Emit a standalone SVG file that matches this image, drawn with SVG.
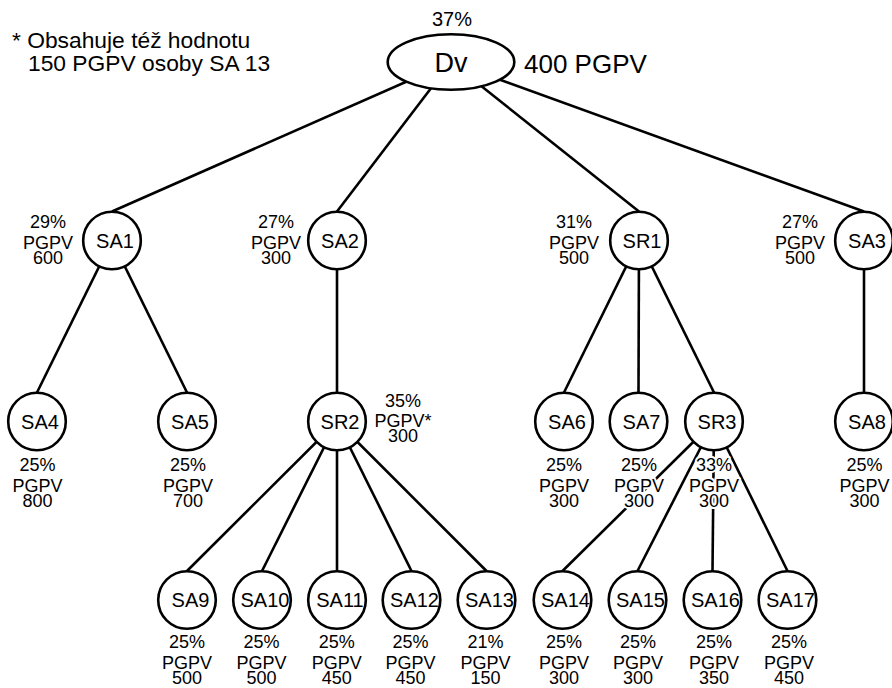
<svg xmlns="http://www.w3.org/2000/svg" width="892" height="688" viewBox="0 0 892 688">
<style>
text{font-family:"Liberation Sans",Arial,sans-serif;fill:#000}
.edge line{stroke:#000;stroke-width:2.6}
.node circle,.node ellipse{fill:#fff;stroke:#000;stroke-width:2.6}
.nt{font-size:20px;text-anchor:middle}
.lb{font-size:18px;text-anchor:middle;stroke:#fff;stroke-width:4;stroke-linejoin:round;paint-order:stroke}
</style>
<rect width="892" height="688" fill="#fff"/>
<g id="legend">
<text x="12" y="48" font-size="22.8">* Obsahuje též hodnotu</text>
<text x="28" y="71" font-size="22.8">150 PGPV osoby SA 13</text>
</g>
<g id="connectors" class="edge">
<line x1="451" y1="62" x2="112" y2="211.5"/>
<line x1="451" y1="62" x2="337" y2="211.5"/>
<line x1="451" y1="62" x2="639" y2="211.5"/>
<line x1="451" y1="62" x2="864" y2="211.5"/>
<line x1="112" y1="240.5" x2="37" y2="392.5"/>
<line x1="112" y1="240.5" x2="187" y2="392.5"/>
<line x1="337" y1="240.5" x2="337" y2="392.5"/>
<line x1="639" y1="240.5" x2="564" y2="392.5"/>
<line x1="639" y1="240.5" x2="638.5" y2="392.5"/>
<line x1="639" y1="240.5" x2="714" y2="392.5"/>
<line x1="864" y1="240.5" x2="864" y2="392.5"/>
<line x1="337" y1="421.5" x2="187" y2="571"/>
<line x1="337" y1="421.5" x2="262" y2="571"/>
<line x1="337" y1="421.5" x2="337" y2="571"/>
<line x1="337" y1="421.5" x2="411.5" y2="571"/>
<line x1="337" y1="421.5" x2="486.5" y2="571"/>
<line x1="714" y1="421.5" x2="562.5" y2="571"/>
<line x1="714" y1="421.5" x2="637.5" y2="571"/>
<line x1="714" y1="421.5" x2="712.5" y2="571"/>
<line x1="714" y1="421.5" x2="787.5" y2="571"/>
</g>
<g id="Dv" class="node">
<ellipse cx="451" cy="62" rx="63.3" ry="27.8"/>
<text x="451" y="71.5" font-size="27" text-anchor="middle">Dv</text>
<text x="452" y="26" font-size="20" text-anchor="middle">37%</text>
<text x="524" y="72.5" font-size="26">400 PGPV</text>
</g>
<g id="SA1" class="node"><circle cx="112" cy="240.5" r="28.8"/><text class="nt" x="115" y="247.8">SA1</text>
<text class="lb" x="48"><tspan x="48" y="228">29%</tspan><tspan x="48" y="248.5">PGPV</tspan><tspan x="48" y="263.5">600</tspan></text></g>
<g id="SA2" class="node"><circle cx="337" cy="240.5" r="28.8"/><text class="nt" x="340" y="247.8">SA2</text>
<text class="lb" x="276"><tspan x="276" y="228">27%</tspan><tspan x="276" y="248.5">PGPV</tspan><tspan x="276" y="263.5">300</tspan></text></g>
<g id="SR1" class="node"><circle cx="639" cy="240.5" r="28.8"/><text class="nt" x="642" y="247.8">SR1</text>
<text class="lb" x="574"><tspan x="574" y="228">31%</tspan><tspan x="574" y="248.5">PGPV</tspan><tspan x="574" y="263.5">500</tspan></text></g>
<g id="SA3" class="node"><circle cx="864" cy="240.5" r="28.8"/><text class="nt" x="867" y="247.8">SA3</text>
<text class="lb" x="800"><tspan x="800" y="228">27%</tspan><tspan x="800" y="248.5">PGPV</tspan><tspan x="800" y="263.5">500</tspan></text></g>
<g id="SA4" class="node"><circle cx="37" cy="421.5" r="28.8"/><text class="nt" x="40" y="428.8">SA4</text>
<text class="lb" x="37.5"><tspan x="37.5" y="470.5">25%</tspan><tspan x="37.5" y="491.5">PGPV</tspan><tspan x="37.5" y="506.5">800</tspan></text></g>
<g id="SA5" class="node"><circle cx="187" cy="421.5" r="28.8"/><text class="nt" x="190" y="428.8">SA5</text>
<text class="lb" x="188"><tspan x="188" y="470.5">25%</tspan><tspan x="188" y="491.5">PGPV</tspan><tspan x="188" y="506.5">700</tspan></text></g>
<g id="SR2" class="node"><circle cx="337" cy="421.5" r="28.8"/><text class="nt" x="340" y="428.8">SR2</text>
<text class="lb" x="403"><tspan x="403" y="406.5">35%</tspan><tspan x="403" y="427">PGPV*</tspan><tspan x="403" y="442">300</tspan></text></g>
<g id="SA6" class="node"><circle cx="564" cy="421.5" r="28.8"/><text class="nt" x="567" y="428.8">SA6</text>
<text class="lb" x="564"><tspan x="564" y="470.5">25%</tspan><tspan x="564" y="491.5">PGPV</tspan><tspan x="564" y="506.5">300</tspan></text></g>
<g id="SA7" class="node"><circle cx="638.5" cy="421.5" r="28.8"/><text class="nt" x="641.5" y="428.8">SA7</text>
<text class="lb" x="639"><tspan x="639" y="470.5">25%</tspan><tspan x="639" y="491.5">PGPV</tspan><tspan x="639" y="506.5">300</tspan></text></g>
<g id="SR3" class="node"><circle cx="714" cy="421.5" r="28.8"/><text class="nt" x="717" y="428.8">SR3</text>
<text class="lb" x="714"><tspan x="714" y="470.5">33%</tspan><tspan x="714" y="491.5">PGPV</tspan><tspan x="714" y="506.5">300</tspan></text></g>
<g id="SA8" class="node"><circle cx="864" cy="421.5" r="28.8"/><text class="nt" x="867" y="428.8">SA8</text>
<text class="lb" x="864.5"><tspan x="864.5" y="470.5">25%</tspan><tspan x="864.5" y="491.5">PGPV</tspan><tspan x="864.5" y="506.5">300</tspan></text></g>
<g id="SA9" class="node"><circle cx="187" cy="600" r="28.8"/><text class="nt" x="190.5" y="607.3">SA9</text>
<text class="lb" x="187"><tspan x="187" y="647.5">25%</tspan><tspan x="187" y="668.5">PGPV</tspan><tspan x="187" y="684">500</tspan></text></g>
<g id="SA10" class="node"><circle cx="262" cy="600" r="28.8"/><text class="nt" x="265" y="607.3">SA10</text>
<text class="lb" x="261.5"><tspan x="261.5" y="647.5">25%</tspan><tspan x="261.5" y="668.5">PGPV</tspan><tspan x="261.5" y="684">500</tspan></text></g>
<g id="SA11" class="node"><circle cx="337" cy="600" r="28.8"/><text class="nt" x="340" y="607.3">SA11</text>
<text class="lb" x="336.7"><tspan x="336.7" y="647.5">25%</tspan><tspan x="336.7" y="668.5">PGPV</tspan><tspan x="336.7" y="684">450</tspan></text></g>
<g id="SA12" class="node"><circle cx="411.5" cy="600" r="28.8"/><text class="nt" x="414.5" y="607.3">SA12</text>
<text class="lb" x="410.5"><tspan x="410.5" y="647.5">25%</tspan><tspan x="410.5" y="668.5">PGPV</tspan><tspan x="410.5" y="684">450</tspan></text></g>
<g id="SA13" class="node"><circle cx="486.5" cy="600" r="28.8"/><text class="nt" x="489.5" y="607.3">SA13</text>
<text class="lb" x="485.5"><tspan x="485.5" y="647.5">21%</tspan><tspan x="485.5" y="668.5">PGPV</tspan><tspan x="485.5" y="684">150</tspan></text></g>
<g id="SA14" class="node"><circle cx="562.5" cy="600" r="28.8"/><text class="nt" x="565.5" y="607.3">SA14</text>
<text class="lb" x="564"><tspan x="564" y="647.5">25%</tspan><tspan x="564" y="668.5">PGPV</tspan><tspan x="564" y="684">300</tspan></text></g>
<g id="SA15" class="node"><circle cx="637.5" cy="600" r="28.8"/><text class="nt" x="640.5" y="607.3">SA15</text>
<text class="lb" x="638"><tspan x="638" y="647.5">25%</tspan><tspan x="638" y="668.5">PGPV</tspan><tspan x="638" y="684">300</tspan></text></g>
<g id="SA16" class="node"><circle cx="712.5" cy="600" r="28.8"/><text class="nt" x="715.5" y="607.3">SA16</text>
<text class="lb" x="714"><tspan x="714" y="647.5">25%</tspan><tspan x="714" y="668.5">PGPV</tspan><tspan x="714" y="684">350</tspan></text></g>
<g id="SA17" class="node"><circle cx="787.5" cy="600" r="28.8"/><text class="nt" x="790.5" y="607.3">SA17</text>
<text class="lb" x="789"><tspan x="789" y="647.5">25%</tspan><tspan x="789" y="668.5">PGPV</tspan><tspan x="789" y="684">450</tspan></text></g>
</svg>
